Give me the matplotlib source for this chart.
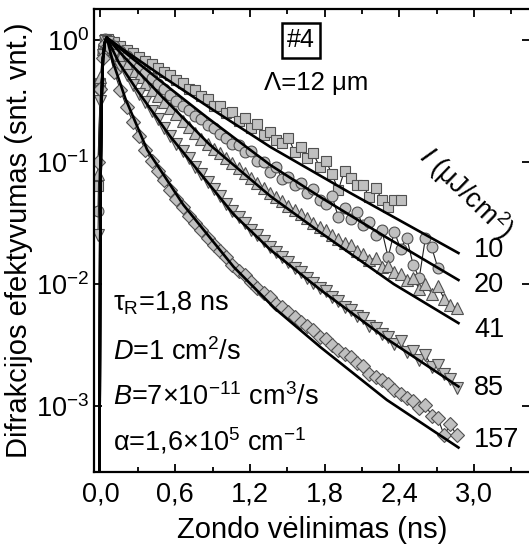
import matplotlib
matplotlib.use("Agg")
import matplotlib.pyplot as plt
import numpy as np

plt.rcParams['font.family'] = ['Liberation Sans', 'DejaVu Sans']
plt.rcParams['mathtext.fontset'] = 'custom'
plt.rcParams['mathtext.rm'] = 'Liberation Sans'
plt.rcParams['mathtext.it'] = 'Liberation Sans:italic'

# intensity labels (uJ/cm2)
labels = ['10', '20', '41', '85', '157']
markers = ['s', 'o', '^', 'v', 'D']
msizes = [7.2, 7.8, 8.0, 8.0, 7.4]

# points on the rising edge, same for all series
rise_t = [-0.02, 0.0, 0.02, 0.04]
rise_log = {
    '10': [-1.2, -0.35, -0.08, 0.01],
    '20': [-1.4, -0.40, -0.10, 0.01],
    '41': [-1.1, -0.30, -0.07, 0.0],
    '85': [-1.6, -0.50, -0.12, -0.01],
    '157': [-1.0, -0.40, -0.15, -0.03],
}

# measured points after the peak, sampled every 0.05 ns from 0.06 ns (log10)
t0, dt = 0.06, 0.05
log_10 = [0.01, -0.02, -0.05, -0.08, -0.11, -0.14, -0.17, -0.20, -0.23, -0.26,
          -0.29, -0.33, -0.35, -0.40, -0.41, -0.46, -0.48, -0.54, -0.54, -0.60,
          -0.59, -0.66, -0.64, -0.72, -0.69, -0.78, -0.75, -0.82, -0.84, -0.80,
          -0.92, -0.88, -0.97, -0.93, -1.04, -0.99, -1.10, -1.23, -1.07, -1.13,
          -1.19, -1.19, -1.29, -1.21, -1.31, -1.37, -1.31, -1.31]
log_20 = [0.00, -0.05, -0.09, -0.13, -0.18, -0.22, -0.27, -0.31, -0.36, -0.40,
          -0.45, -0.50, -0.54, -0.57, -0.62, -0.65, -0.70, -0.72, -0.77, -0.80,
          -0.85, -0.86, -0.92, -0.91, -0.99, -1.00, -1.08, -1.04, -1.14, -1.12,
          -1.19, -1.17, -1.25, -1.22, -1.31, -1.34, -1.28, -1.45, -1.38, -1.47,
          -1.41, -1.52, -1.49, -1.60, -1.56, -1.78, -1.57, -1.71, -1.62, -1.84,
          -1.95, -1.62, -1.70, -1.87]
log_41 = [-0.02, -0.09, -0.15, -0.20, -0.25, -0.30, -0.36, -0.41, -0.46, -0.51,
          -0.56, -0.61, -0.66, -0.71, -0.76, -0.81, -0.85, -0.89, -0.93, -0.97,
          -1.01, -1.05, -1.09, -1.13, -1.17, -1.21, -1.25, -1.29, -1.32, -1.36,
          -1.39, -1.43, -1.46, -1.50, -1.53, -1.56, -1.60, -1.63, -1.66, -1.68,
          -1.73, -1.75, -1.80, -1.79, -1.86, -1.85, -1.90, -1.92, -1.97, -1.95,
          -2.04, -2.00, -2.08, -2.02, -2.12, -2.17, -2.20]
log_85 = [-0.02, -0.12, -0.22, -0.29, -0.37, -0.44, -0.51, -0.58, -0.65, -0.72,
          -0.79, -0.85, -0.91, -0.97, -1.04, -1.10, -1.16, -1.22, -1.28, -1.34,
          -1.40, -1.45, -1.50, -1.56, -1.60, -1.65, -1.70, -1.74, -1.78, -1.82,
          -1.87, -1.90, -1.95, -1.99, -2.03, -2.06, -2.11, -2.14, -2.19, -2.21,
          -2.26, -2.28, -2.34, -2.36, -2.41, -2.43, -2.49, -2.47, -2.56, -2.55,
          -2.62, -2.58, -2.68, -2.66, -2.74, -2.78, -2.85]
log_157 = [-0.05, -0.26, -0.41, -0.55, -0.67, -0.79, -0.90, -0.99, -1.07, -1.15,
           -1.23, -1.30, -1.37, -1.44, -1.50, -1.56, -1.62, -1.68, -1.73, -1.78,
           -1.84, -1.89, -1.93, -1.98, -2.03, -2.07, -2.11, -2.16, -2.19, -2.23,
           -2.27, -2.31, -2.34, -2.38, -2.43, -2.45, -2.50, -2.54, -2.57, -2.60,
           -2.65, -2.67, -2.74, -2.76, -2.79, -2.82, -2.87, -2.90, -2.93, -2.96,
           -3.02, -2.99, -3.08, -3.10, -3.24, -3.15, -3.24]
data_log = {'10': log_10, '20': log_20, '41': log_41, '85': log_85, '157': log_157}

# model curves (t, log10)
fit_rise_t = [-0.01, 0.0, 0.01, 0.02, 0.035]
fit_rise_log = [-4.0, -1.2, -0.45, -0.15, -0.02]
fit_t = {
    '10': [0.05, 0.2, 0.5, 0.9, 1.365, 2.0, 2.875],
    '20': [0.05, 0.2, 0.5, 0.85, 1.15, 1.365, 1.77, 2.3, 2.875],
    '41': [0.05, 0.2, 0.5, 0.88, 1.365, 1.77, 2.355, 2.875],
    '85': [0.05, 0.15, 0.3, 0.56, 1.07, 1.365, 1.77, 2.3, 2.875],
    '157': [0.05, 0.1, 0.2, 0.375, 0.665, 1.07, 1.4, 1.77, 2.3, 2.875],
}
fit_log = {
    '10': [0.02, -0.09, -0.30, -0.57, -0.877, -1.25, -1.746],
    '20': [0.02, -0.105, -0.35, -0.63, -0.86, -1.025, -1.29, -1.62, -1.967],
    '41': [0.02, -0.15, -0.47, -0.86, -1.28, -1.58, -2.0, -2.32],
    '85': [0.02, -0.19, -0.42, -0.79, -1.43, -1.72, -2.05, -2.45, -2.84],
    '157': [0.02, -0.18, -0.48, -0.90, -1.35, -1.86, -2.2, -2.52, -2.95, -3.34],
}

fig = plt.figure(figsize=(5.29, 5.47), dpi=100)
ax = fig.add_axes([0.1777, 0.1371, 0.8243, 0.8464])

for lab, mk, ms in zip(labels, markers, msizes):
    vals = data_log[lab]
    t = np.concatenate([rise_t, t0 + dt * np.arange(len(vals))])
    y = 10 ** np.concatenate([rise_log[lab], vals])
    ax.plot(t, y, '-', color='#202020', lw=0.8, marker=mk, ms=ms,
            mfc='#c0c0c0', mec='#505050', mew=0.8, zorder=2)

for lab in labels:
    t = fit_rise_t + fit_t[lab]
    y = 10 ** np.array(fit_rise_log + fit_log[lab])
    ax.plot(t, y, 'k-', lw=1.9, zorder=3)

ax.set_yscale('log')
ax.set_xlim(-0.052, 3.45)
ax.set_ylim(2.88e-4, 1.795)
ax.set_xticks([0.0, 0.6, 1.2, 1.8, 2.4, 3.0])
ax.set_xticklabels(['0,0', '0,6', '1,2', '1,8', '2,4', '3,0'])
ax.set_xticks([0.3, 0.9, 1.5, 2.1, 2.7, 3.3], minor=True)
ax.set_yticks([1e-3, 1e-2, 1e-1, 1e0])
ax.yaxis.set_minor_locator(matplotlib.ticker.NullLocator())
ax.tick_params(which='both', direction='in', top=True, right=True,
               labelsize=19.5, width=1.3)
ax.tick_params(which='major', length=6)
ax.tick_params(which='minor', length=3.5)
ax.tick_params(axis='x', pad=7)
for s in ax.spines.values():
    s.set_linewidth(1.6)

ax.set_xlabel('Zondo vėlinimas (ns)', fontsize=21, labelpad=6)
ax.set_ylabel('Difrakcijos efektyvumas (snt. vnt.)', fontsize=21, labelpad=2)

ax.text(1.61, 1.0, '#4', fontsize=18, ha='center', va='center',
        bbox=dict(boxstyle='square,pad=0.22', fc='white', ec='black', lw=1.8))
ax.text(1.73, 0.445, 'Λ=12 μm', fontsize=18.5, ha='center', va='center')
ax.text(2.94, 10 ** -1.25, '$\\mathit{I}$ (μJ/cm$^\\mathregular{2}$)',
        fontsize=19.5, ha='center', va='center', rotation=-44)

label_y = [-1.72, -2.01, -2.38, -2.85, -3.28]
for lab, ly in zip(labels, label_y):
    ax.text(3.0, 10 ** ly, lab, fontsize=19.5, ha='left', va='center')

params = ['τ$_\\mathregular{R}$=1,8 ns',
          '$\\mathit{D}$=1 cm$^\\mathregular{2}$/s',
          '$\\mathit{B}$=7×10$^\\mathregular{-11}$ cm$^\\mathregular{3}$/s',
          'α=1,6×10$^\\mathregular{5}$ cm$^\\mathregular{-1}$']
param_y = [-2.156, -2.557, -2.926, -3.287]
for p, py in zip(params, param_y):
    ax.text(0.10, 10 ** py, p, fontsize=19.5, ha='left', va='center')

fig.savefig('out.png', dpi=100)
